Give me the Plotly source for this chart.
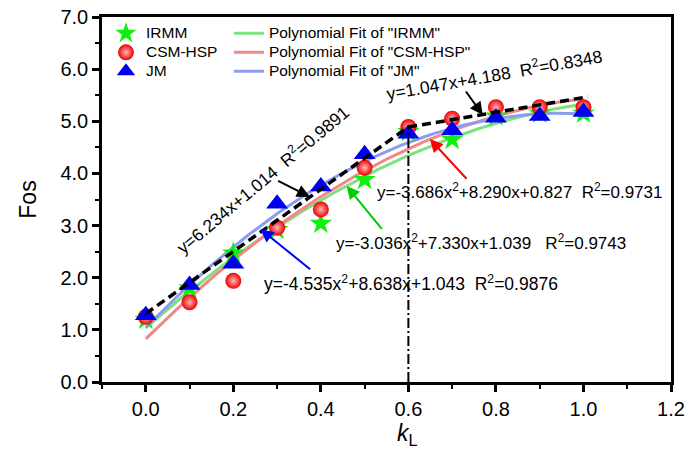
import numpy as np
import plotly.graph_objects as go

# ---------------- data ----------------
k_L = [0.0, 0.1, 0.2, 0.3, 0.4, 0.5, 0.6, 0.7, 0.8, 0.9, 1.0]
fos_irmm = [1.20, 1.80, 2.47, 2.92, 3.04, 3.88, 4.80, 4.65, 5.10, 5.15, 5.15]
fos_csm = [1.25, 1.53, 1.94, 2.96, 3.31, 4.11, 4.89, 5.05, 5.27, 5.27, 5.27]
fos_jm = [1.28, 1.86, 2.27, 3.42, 3.75, 4.37, 4.76, 4.83, 5.07, 5.10, 5.18]

# quadratic fit coefficients (a, b, c) printed on the chart: y = a x^2 + b x + c
coef_irmm = [-3.036, 7.330, 1.039]
coef_csm = [-3.686, 8.290, 0.827]
coef_jm = [-4.535, 8.638, 1.043]

# black dashed bilinear trend (as drawn)
trend_x = [0.0, 0.6, 1.01]
trend_y = [1.31, 4.89, 5.47]

# vertical reference line at k_L = 0.6
vline_x = [0.6, 0.6]
vline_y = [0.0, 4.89]

x_ticks = [0.0, 0.2, 0.4, 0.6, 0.8, 1.0, 1.2]
y_ticks = [0.0, 1.0, 2.0, 3.0, 4.0, 5.0, 6.0, 7.0]

FONT = "Liberation Sans, Arial, sans-serif"
LEG = '<span style="font-size:15.5px">{}</span>'

xf = np.linspace(0, 1, 101)


def poly(c):
    return c[0] * xf ** 2 + c[1] * xf + c[2]


fig = go.Figure()

# fit curves
fig.add_trace(go.Scatter(x=xf, y=poly(coef_irmm), mode="lines", name=LEG.format('Polynomial Fit of "IRMM"'),
                         line=dict(color="#7fe07f", width=3), legend="legend2"))
fig.add_trace(go.Scatter(x=xf, y=poly(coef_csm), mode="lines", name=LEG.format('Polynomial Fit of "CSM-HSP"'),
                         line=dict(color="#f08888", width=3), legend="legend2"))
fig.add_trace(go.Scatter(x=xf, y=poly(coef_jm), mode="lines", name=LEG.format('Polynomial Fit of "JM"'),
                         line=dict(color="#8c9cf0", width=3), legend="legend2"))

# markers
fig.add_trace(go.Scatter(x=k_L, y=fos_irmm, mode="markers", name=LEG.format("IRMM"),
                         marker=dict(symbol="star", size=17, color="#11ee11", line=dict(width=0)),
                         legend="legend"))
fig.add_trace(go.Scatter(x=k_L, y=fos_csm, mode="markers", name=LEG.format("CSM-HSP"),
                         marker=dict(symbol="circle", size=16, color="#ee0000",
                                     gradient=dict(type="radial", color="#ffb8b8"),
                                     line=dict(width=0)),
                         legend="legend"))
fig.add_trace(go.Scatter(x=k_L, y=fos_jm, mode="markers", name=LEG.format("JM"),
                         marker=dict(symbol="triangle-up", size=19, color="#0000ee", line=dict(width=0)),
                         legend="legend"))

# trend + vertical line
fig.add_trace(go.Scatter(x=trend_x, y=trend_y, mode="lines", showlegend=False,
                         line=dict(color="black", width=3.5, dash="9px,5px")))
fig.add_trace(go.Scatter(x=vline_x, y=vline_y, mode="lines", showlegend=False,
                         line=dict(color="black", width=2, dash="10px,3px,2px,3px")))

annotations = [
    dict(x=0.266, y=3.89, size=17.5, text="y=6.234x+1.014  R<sup>2</sup>=0.9891", textangle=-40),
    dict(x=0.795, y=5.90, size=17.5, text="y=1.047x+4.188  R<sup>2</sup>=0.8348", textangle=-10),
    dict(x=0.856, y=3.67, size=17, text="y=-3.686x<sup>2</sup>+8.290x+0.827  R<sup>2</sup>=0.9731", textangle=0),
    dict(x=0.766, y=2.68, size=17, text="y=-3.036x<sup>2</sup>+7.330x+1.039   R<sup>2</sup>=0.9743", textangle=0),
    dict(x=0.605, y=1.89, size=17.5, text="y=-4.535x<sup>2</sup>+8.638x+1.043  R<sup>2</sup>=0.9876", textangle=0),
]
for a in annotations:
    fig.add_annotation(x=a["x"], y=a["y"], xref="x", yref="y", text=a["text"],
                       textangle=a["textangle"], showarrow=False,
                       font=dict(family=FONT, size=a["size"], color="black"))

arrows = [
    # head (x, y), tail (ax, ay), color
    (0.375, 3.55, 0.299, 3.87, "black"),
    (0.770, 5.12, 0.729, 5.60, "black"),
    (0.649, 4.66, 0.736, 3.87, "#ff0000"),
    (0.459, 3.76, 0.542, 2.91, "#00cc00"),
    (0.262, 2.93, 0.379, 2.14, "#0000ff"),
]
for hx, hy, tx, ty, col in arrows:
    fig.add_annotation(x=hx, y=hy, ax=tx, ay=ty, xref="x", yref="y", axref="x", ayref="y",
                       text="", showarrow=True, arrowhead=2, arrowsize=1.3, arrowwidth=2,
                       arrowcolor=col)

# x-axis title (placed slightly right of centre, as in the original)
fig.add_annotation(x=0.599, y=-0.145, xref="x", yref="paper", xanchor="center", yanchor="middle",
                   text="<i>k</i><sub>L</sub>", showarrow=False,
                   font=dict(family=FONT, size=23, color="black"))

axis_common = dict(showline=True, linecolor="black", linewidth=2.5, mirror=True,
                   ticks="outside", ticklen=7, tickwidth=2.5, tickcolor="black",
                   showgrid=False, zeroline=False, automargin=False,
                   tickfont=dict(family=FONT, size=20, color="black"))

fig.update_xaxes(range=[-0.1, 1.2], tickvals=x_ticks, ticktext=[f"{v:.1f}" for v in x_ticks],
                 minor=dict(ticks="outside", ticklen=4, tickwidth=2, tickcolor="black",
                            dtick=0.1, tick0=0),
                 **axis_common)
fig.update_yaxes(range=[0, 7], tickvals=y_ticks, ticktext=[f"{v:.1f}" for v in y_ticks],
                 minor=dict(ticks="outside", ticklen=4, tickwidth=2, tickcolor="black",
                            dtick=0.5, tick0=0),
                 title=dict(text="Fos", font=dict(family=FONT, size=23, color="black"),
                            standoff=18),
                 **axis_common)

legend_font = dict(family=FONT, size=12, color="black")
fig.update_layout(
    width=688, height=462,
    margin=dict(l=102, r=17, t=17, b=80),
    paper_bgcolor="white", plot_bgcolor="white",
    font=dict(family=FONT, color="black"),
    legend=dict(x=0.007, y=0.995, xanchor="left", yanchor="top", bgcolor="rgba(0,0,0,0)",
                font=legend_font, tracegroupgap=0, itemsizing="trace"),
    legend2=dict(x=0.223, y=0.995, xanchor="left", yanchor="top", bgcolor="rgba(0,0,0,0)",
                 font=legend_font, tracegroupgap=0),
)

fig.write_html("out.html", config={"displayModeBar": False},
               post_script="document.body.style.margin='0';")
